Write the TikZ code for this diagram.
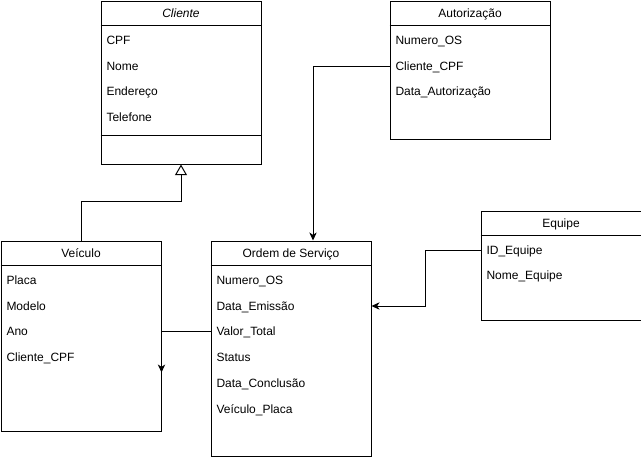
\documentclass[tikz,border=0pt]{standalone}
\usepackage{fontspec}
\setmainfont{Liberation Sans}
\usetikzlibrary{arrows.meta,calc}
\begin{document}
\begin{tikzpicture}[x=0.75pt,y=-0.75pt,
  line width=0.75pt,
  every node/.style={font=\fontsize{9pt}{11pt}\selectfont},
  box/.style={draw, anchor=north west, inner sep=0pt, minimum width=120pt},
  attr/.style={anchor=west, inner sep=0pt, text height=6.6pt, text depth=2pt},
  head/.style={inner sep=0pt, text height=6.6pt, text depth=2pt},
  assoc/.style={-{Stealth[length=6pt,width=5.5pt,inset=1.8pt]}},
  inherit/.style={-{Triangle[open,length=8pt,width=9pt]}}]
\useasboundingbox (0,0) rectangle (641,457);

% class boxes
\node[box, minimum height=122.25pt] (cli) at (100.5,0.5) {};
\node[box, minimum height=103.5pt]  (aut) at (389.5,0.5) {};
\node[box, minimum height=142.5pt]  (vei) at (0.5,240.5) {};
\node[box, minimum height=161.25pt] (ord) at (210.5,240.5) {};
\node[box, minimum height=81.75pt]  (equ) at (480.5,210.5) {};

% header separators
\foreach \b in {cli,aut,vei,ord,equ}
  \draw ($(\b.north west)+(0,25)$) -- ($(\b.north east)+(0,25)$);
% operations separator of Cliente
\draw ($(cli.north west)+(0,134.5)$) -- ($(cli.north east)+(0,134.5)$);

% Cliente
\node[head] (clih) at ($(cli.north)+(0,14)$) {\itshape Cliente};
\node[attr] (c1) at (106,41.5) {CPF};
\node[attr] (c2) at (106,67) {Nome};
\node[attr] (c3) at (106,92) {Endereço};
\node[attr] (c4) at (106,118) {Telefone};

% Autorização
\node[head] (auth) at ($(aut.north)+(0,14)$) {Autorização};
\node[attr] (a1) at (395,41.5) {Numero\_OS};
\node[attr] (a2) at (395,67) {Cliente\_CPF};
\node[attr] (a3) at (395,92) {Data\_Autorização};

% Veículo
\node[head] (veih) at ($(vei.north)+(0,14)$) {Veículo};
\node[attr] (v1) at (6,281) {Placa};
\node[attr] (v2) at (6,307) {Modelo};
\node[attr] (v3) at (6,332) {Ano};
\node[attr] (v4) at (6,358) {Cliente\_CPF};

% Ordem de Serviço
\node[head] (ordh) at ($(ord.north)+(0,14)$) {Ordem de Serviço};
\node[attr] (o1) at (216,281) {Numero\_OS};
\node[attr] (o2) at (216,307) {Data\_Emissão};
\node[attr] (o3) at (216,332) {Valor\_Total};
\node[attr] (o4) at (216,358) {Status};
\node[attr] (o5) at (216,384) {Data\_Conclusão};
\node[attr] (o6) at (216,410) {Veículo\_Placa};

% Equipe
\node[head] (equh) at ($(equ.north)+(0,14)$) {Equipe};
\node[attr] (e1) at (486,251) {ID\_Equipe};
\node[attr] (e2) at (486,276) {Nome\_Equipe};

% connectors
\draw[inherit] (vei.north) -- ++(0,-39) -| (cli.south);
\coordinate (ordin) at ($(ord.north west)+(102.5,0)$);
\draw[assoc] (aut.west |- 0,66) -| (ordin);
\draw[assoc] (equ.west |- 0,250.5) -- ++(-55,0) |- (ord.east |- 0,306);
\coordinate (veiin) at ($(vei.east)+(0,36.5)$);
\draw[assoc] (ord.west |- 0,331) -| (veiin);
\end{tikzpicture}
\end{document}
